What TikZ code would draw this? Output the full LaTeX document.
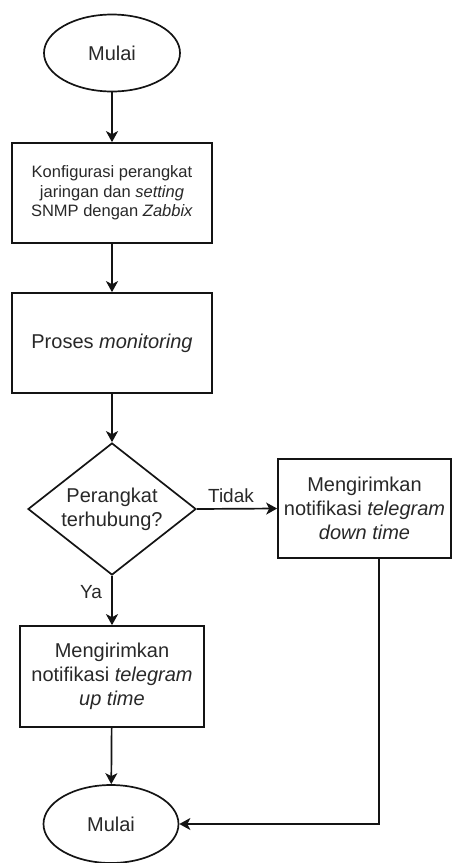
\documentclass[tikz,border=0pt]{standalone}
\usepackage{fontspec}
\setmainfont{Liberation Sans}
\usetikzlibrary{shapes.geometric,arrows.meta}
\definecolor{txt}{RGB}{40,40,40}
\definecolor{ln}{RGB}{20,20,20}
\tikzset{
  base/.style={draw=ln, line width=1.7pt, text=txt, align=center, inner sep=0pt},
  oval/.style={base, ellipse, font=\fontsize{20}{24}\selectfont},
  procbox/.style={base, rectangle, font=\fontsize{20}{24}\selectfont},
  smallbox/.style={base, rectangle, font=\fontsize{16.5}{19.5}\selectfont},
  decide/.style={base, diamond, aspect=1.27, font=\fontsize{20}{24}\selectfont},
  conn/.style={draw=ln, line width=1.7pt, -{Stealth[length=11pt,width=12pt,inset=3pt]}},
  lbl/.style={text=txt, font=\fontsize{19}{22}\selectfont, inner sep=0pt}
}
\begin{document}
\begin{tikzpicture}[x=1pt,y=-1pt]
\useasboundingbox (0,0) rectangle (453,863);
\node[oval, minimum width=136pt, minimum height=77pt] (s1) at (112,53) {Mulai};
\node[smallbox, minimum width=200pt, minimum height=100pt] (b1) at (112,193)
  {Konfigurasi perangkat\\jaringan dan \textit{setting}\\SNMP dengan \textit{Zabbix}};
\node[procbox, minimum width=200pt, minimum height=100pt] (b2) at (112,343)
  {Proses \textit{monitoring}};
\node[decide, minimum width=168pt, minimum height=132pt] (d) at (112,509)
  {Perangkat\\terhubung?};
\node[procbox, minimum width=173pt, minimum height=99pt] (r) at (364.5,508.5)
  {Mengirimkan\\notifikasi \textit{telegram}\\\textit{down time}};
\node[procbox, minimum width=184pt, minimum height=101pt] (y) at (112,676.5)
  {Mengirimkan\\notifikasi \textit{telegram}\\\textit{up time}};
\node[oval, minimum width=135pt, minimum height=78pt] (s2) at (111,824) {Mulai};
\coordinate (c) at (379,824);
\draw[conn] (s1) -- (b1);
\draw[conn] (b1) -- (b2);
\draw[conn] (b2) -- (d);
\draw[conn] (d.east) -- (r.west);
\draw[conn] (d.south) -- (y.north);
\draw[conn] (y) -- (s2);
\draw[conn] (r.south -| c) |- (s2.east);
\node[lbl] (tl) at (231,496) {Tidak};
\node[lbl] (yl) at (91,592) {Ya};
\end{tikzpicture}
\end{document}
